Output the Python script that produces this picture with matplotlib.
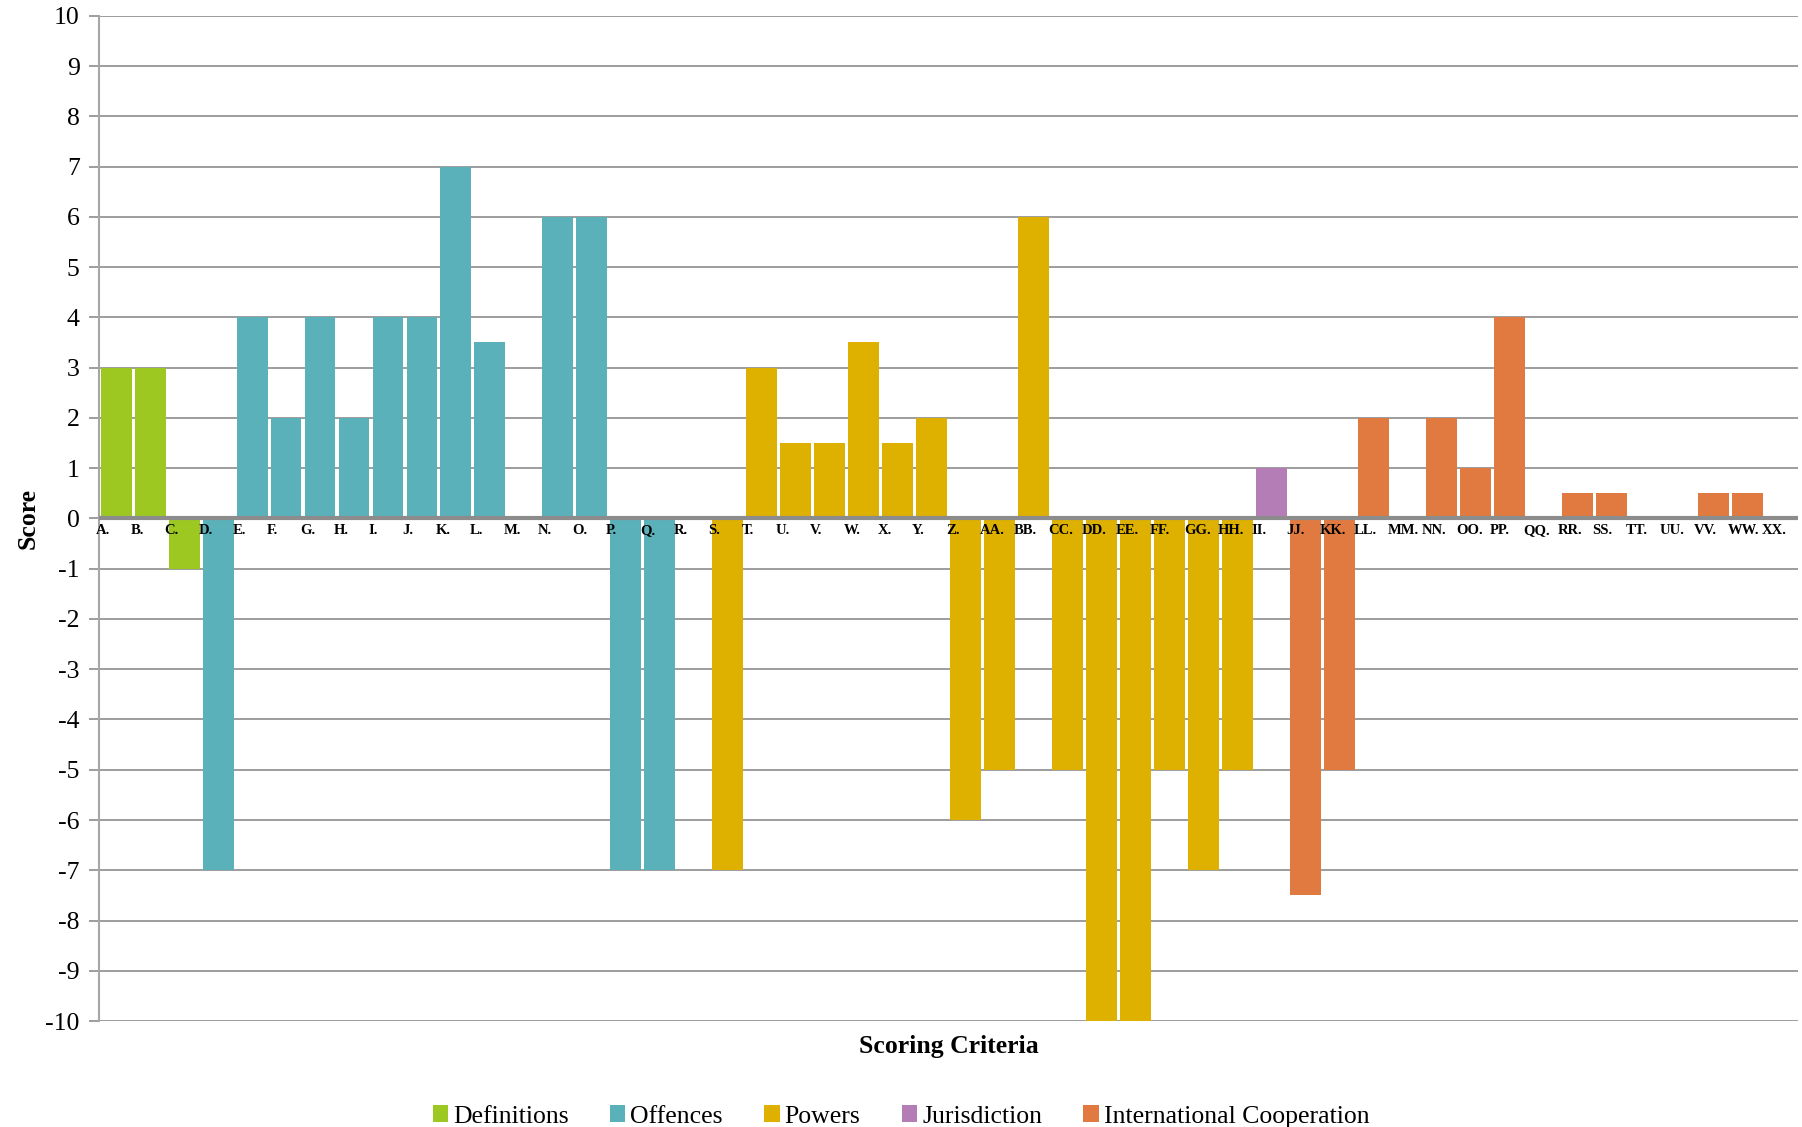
import numpy as np
import matplotlib.pyplot as plt
from matplotlib.patches import Patch
from matplotlib.transforms import offset_copy

plt.rcParams['font.family'] = ['Liberation Serif', 'DejaVu Serif']
plt.rcParams['axes.unicode_minus'] = False

labels = ['A.', 'B.', 'C.', 'D.', 'E.', 'F.', 'G.', 'H.', 'I.', 'J.', 'K.', 'L.', 'M.',
          'N.', 'O.', 'P.', 'Q.', 'R.', 'S.', 'T.', 'U.', 'V.', 'W.', 'X.', 'Y.', 'Z.',
          'AA.', 'BB.', 'CC.', 'DD.', 'EE.', 'FF.', 'GG.', 'HH.', 'II.', 'JJ.', 'KK.',
          'LL.', 'MM.', 'NN.', 'OO.', 'PP.', 'QQ.', 'RR.', 'SS.', 'TT.', 'UU.', 'VV.',
          'WW.', 'XX.']
scores = [3, 3, -1, -7, 4, 2, 4, 2, 4, 4, 7, 3.5, 0,
          6, 6, -7, -7, 0, -7, 3, 1.5, 1.5, 3.5, 1.5, 2, -6,
          -5, 6, -5, -10, -10, -5, -7, -5, 1, -7.5, -5,
          2, 0, 2, 1, 4, 0, 0.5, 0.5, 0, 0, 0.5,
          0.5, 0]
# group of each criterion
groups = ['Definitions'] * 3 + ['Offences'] * 15 + ['Powers'] * 16 + ['Jurisdiction'] * 1 \
         + ['International Cooperation'] * 15

group_names = ['Definitions', 'Offences', 'Powers', 'Jurisdiction', 'International Cooperation']
group_colors = {'Definitions': '#9DC822', 'Offences': '#5AB1BA', 'Powers': '#DEB000',
                'Jurisdiction': '#B57DB5', 'International Cooperation': '#E07A40'}

fig = plt.figure(figsize=(18.02, 11.27), dpi=100)
ax = fig.add_axes([0.055, 0.094, 0.943, 0.892])

x = np.arange(len(labels))
ax.bar(x, scores, width=0.91, color=[group_colors[g] for g in groups], zorder=3)

ax.set_xlim(-0.5, len(labels) - 0.5)
ax.set_ylim(-10, 10)
ax.set_yticks(np.arange(-10, 11, 1))
ax.yaxis.grid(True, color='#8c8c8c', linewidth=1.2, zorder=0)
ax.tick_params(axis='y', labelsize=18.5, length=7, width=1.2, color='#8c8c8c', pad=7)

# category labels, left aligned at the start of each slot, just under the zero line
ax.set_xticks([])
trans = offset_copy(ax.transData, fig=fig, x=-2, y=-4, units='points')
for i, lab in enumerate(labels):
    ax.text(i - 0.5, 0, lab, transform=trans, ha='left', va='top',
            fontsize=10.5, fontweight='bold')

ax.axhline(0, color='#8c8c8c', linewidth=3, zorder=4)
for s in ['top', 'right', 'bottom']:
    ax.spines[s].set_visible(False)
ax.spines['left'].set_color('#a6a6a6')
ax.spines['left'].set_linewidth(1.5)

ax.set_ylabel('Score', fontsize=18.5, fontweight='bold', labelpad=4)
ax.set_xlabel('Scoring Criteria', fontsize=18.5, fontweight='bold', labelpad=10)

handles = [Patch(facecolor=group_colors[g], label=g) for g in group_names]
fig.legend(handles=handles, loc='lower center', bbox_to_anchor=(0.5, -0.021), ncol=5,
           frameon=False, prop={'family': 'Liberation Serif', 'size': 18.5},
           handlelength=0.6, handleheight=0.6, handletextpad=0.2, columnspacing=1.6)

fig.savefig('out.png', dpi=100)
